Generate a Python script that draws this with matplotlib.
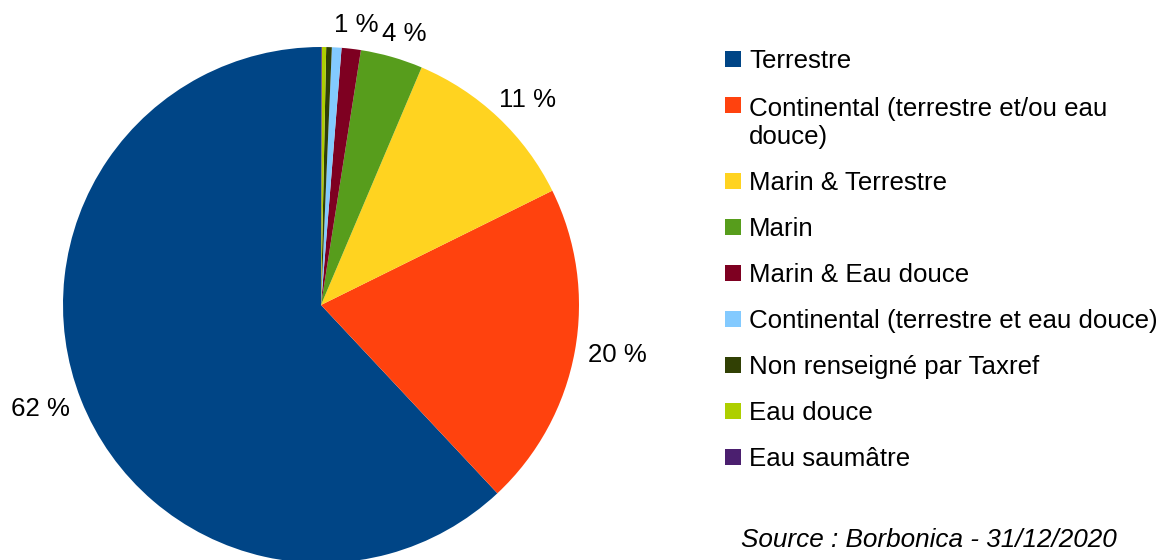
"""
Pie chart of species by habitat (Borbonica, 31/12/2020)
"""
import numpy as np
import matplotlib.pyplot as plt
from matplotlib.patches import Rectangle

plt.rcParams["font.family"] = ["Liberation Sans", "DejaVu Sans"]

# data, in legend order (drawn counterclockwise from 12 o'clock)
categories = [
    "Terrestre",
    "Continental (terrestre et/ou eau\ndouce)",
    "Marin & Terrestre",
    "Marin",
    "Marin & Eau douce",
    "Continental (terrestre et eau douce)",
    "Non renseigné par Taxref",
    "Eau douce",
    "Eau saumâtre",
]
shares = [61.9, 20.3, 11.3, 3.9, 1.2, 0.6, 0.35, 0.27, 0.05]
palette = [
    "#004586", "#ff420e", "#ffd320", "#579d1c", "#7e0021",
    "#83caff", "#314004", "#aecf00", "#4b1f6f",
]
source_note = "Source : Borbonica - 31/12/2020"

W, H = 1167, 560
fig = plt.figure(figsize=(W / 100, H / 100), dpi=100)

# pie axes: center (321, 305) px, radius 258 px
cx, cy, r = 321, 305, 258
ax = fig.add_axes([(cx - r) / W, (H - cy - r) / H, 2 * r / W, 2 * r / H])
wedges, _ = ax.pie(shares, colors=palette, startangle=90, counterclock=True,
                   radius=1, wedgeprops=dict(linewidth=0))
ax.set_xlim(-1, 1)
ax.set_ylim(-1, 1)
ax.set_aspect("equal")
ax.axis("off")
for w in wedges:
    w.set_clip_on(False)

fs = 18.6

# percentage labels, outside the pie (only those >= 1 %)
total = sum(shares)
hw, hh = 32 / r, 12 / r
for w, val in zip(wedges, shares):
    pct = 100 * val / total
    if pct < 1:
        continue
    theta = np.deg2rad((w.theta1 + w.theta2) / 2)
    c, s = np.cos(theta), np.sin(theta)
    x = 1.045 * c + hw * c
    y = 1.045 * s + hh * s
    ax.text(x, y, f"{pct:.0f} %", ha="center", va="center", fontsize=fs,
            clip_on=False)

# legend drawn by hand
line_h = 30
y_px = 59
for label, color in zip(categories, palette):
    n_extra = label.count("\n")
    fig.patches.append(Rectangle((725 / W, 1 - (y_px + 8) / H), 16 / W, 16 / H,
                                 transform=fig.transFigure, facecolor=color,
                                 edgecolor="none"))
    # baseline of the last line for multi-line labels
    base = y_px + 9 + line_h * n_extra
    fig.text(749 / W, 1 - base / H, label, fontsize=fs, ha="left",
             va="baseline", linespacing=1.2)
    y_px += 46 + line_h * n_extra

fig.text(741 / W, 1 - (538 + 9) / H, source_note, fontsize=18.8,
         style="italic", ha="left", va="baseline")

fig.savefig("out.png", dpi=100)
